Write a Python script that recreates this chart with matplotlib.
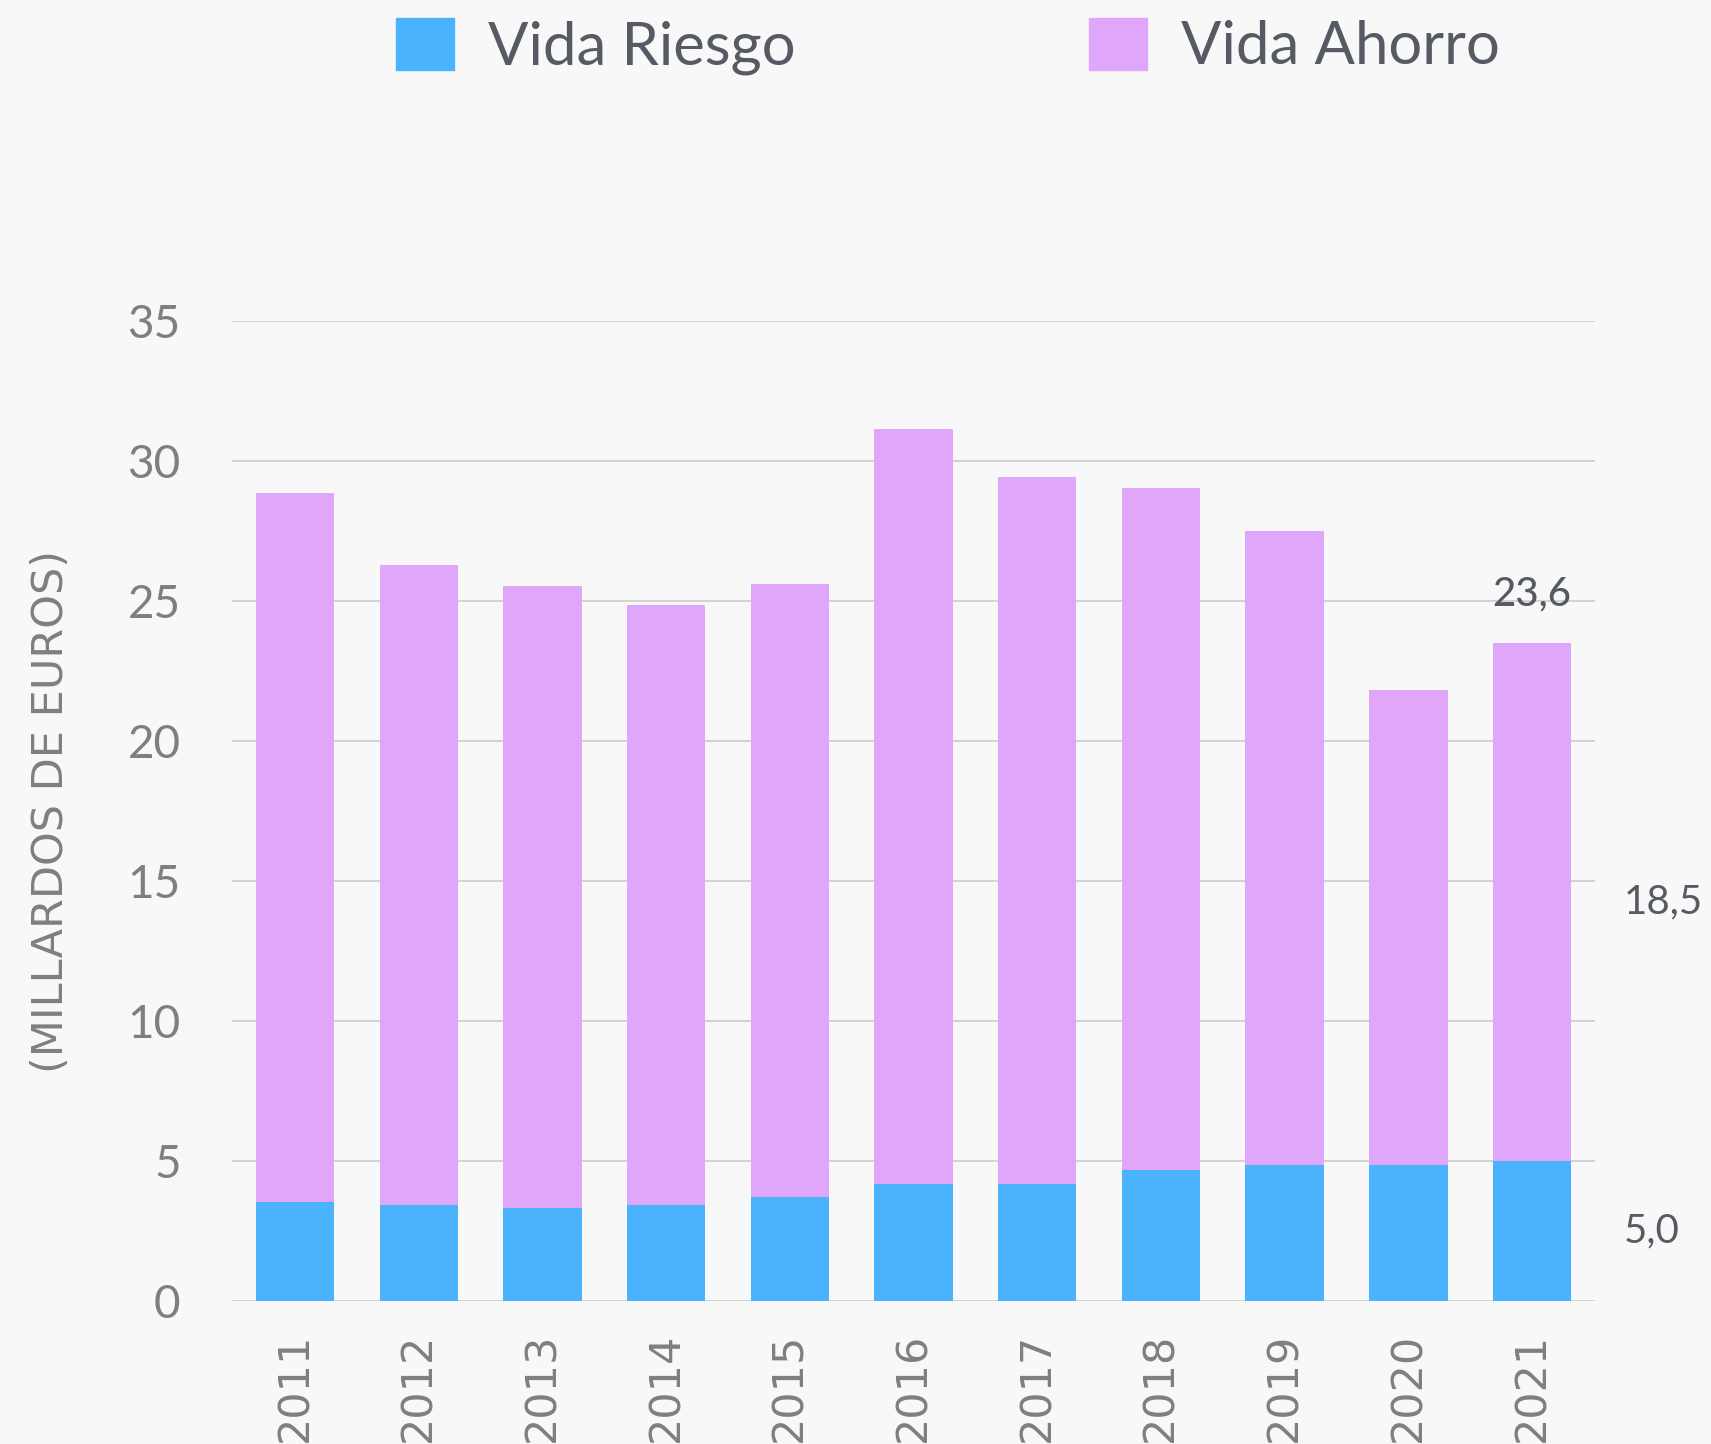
import numpy as np
import matplotlib
matplotlib.use("Agg")
import matplotlib.pyplot as plt
from matplotlib.patches import Patch

# --- Data (billions of euros) ---
years = ['2011', '2012', '2013', '2014', '2015', '2016',
         '2017', '2018', '2019', '2020', '2021']
vida_riesgo = [3.55, 3.43, 3.31, 3.43, 3.70, 4.17, 4.17, 4.68, 4.87, 4.87, 5.0]
vida_ahorro = [25.29, 22.84, 22.22, 21.43, 21.90, 26.97, 25.25, 24.35, 22.64, 16.95, 18.5]
total_label = '23,6'
riesgo_label = '5,0'
ahorro_label = '18,5'

# --- Style ---
BG = '#f8f8f8'
BLUE = '#4bb3fd'
PINK = '#e0a6fa'
GRID = '#cccccc'
TICK = '#7f7f7f'
DARK = '#555a63'
FONT = ['Lato', 'DejaVu Sans']
NARROW = ['Liberation Sans Narrow', 'DejaVu Sans']

plt.rcParams['font.family'] = FONT

fig = plt.figure(figsize=(17.11, 14.44), dpi=100, facecolor=BG)
ax = fig.add_axes([0.1356, 0.0990, 0.7966, 0.6787], facecolor=BG)

x = np.arange(len(years))
w = 0.635
ax.bar(x, vida_riesgo, width=w, color=BLUE, zorder=2, label='Vida Riesgo')
ax.bar(x, vida_ahorro, width=w, bottom=vida_riesgo, color=PINK, zorder=2,
       label='Vida Ahorro')

ax.set_xlim(-0.51, 10.51)
ax.set_ylim(0, 35)
ax.set_yticks(np.arange(0, 36, 5))
ax.yaxis.grid(True, color=GRID, linewidth=1.2, zorder=0)
ax.set_axisbelow(True)
for s in ax.spines.values():
    s.set_visible(False)

ax.set_xticks(x)
ax.set_xticklabels(years, rotation=90, fontsize=31, color=TICK, family=NARROW)
ax.tick_params(axis='x', length=0, pad=23)
ax.tick_params(axis='y', length=0, pad=37, labelsize=33, labelcolor=TICK)

ax.set_ylabel('(MILLARDOS DE EUROS)', fontsize=31, color=TICK,
              family=NARROW, labelpad=40)

# Labels for the last bar
last = len(years) - 1
top = vida_riesgo[last] + vida_ahorro[last]
ax.annotate(total_label, (x[last], top), xytext=(0, 22), textcoords='offset points',
            ha='center', va='bottom', fontsize=29, color=DARK, fontweight='medium')
ax.annotate(ahorro_label, (x[last] + w / 2, vida_riesgo[last] + vida_ahorro[last] / 2),
            xytext=(38, 0), textcoords='offset points', ha='left', va='center',
            fontsize=29, color=DARK, annotation_clip=False)
ax.annotate(riesgo_label, (x[last] + w / 2, vida_riesgo[last] / 2),
            xytext=(38, 0), textcoords='offset points', ha='left', va='center',
            fontsize=29, color=DARK, annotation_clip=False)

handles = [Patch(color=BLUE, label='Vida Riesgo'), Patch(color=PINK, label='Vida Ahorro')]
leg = fig.legend(handles=handles, loc='center', bbox_to_anchor=(0.554, 0.968), ncol=2,
                 frameon=False, fontsize=43, handlelength=0.97, handleheight=0.97,
                 handletextpad=0.57, columnspacing=4.9)
for t in leg.get_texts():
    t.set_color(DARK)

fig.savefig('out.png', dpi=100, facecolor=BG)
